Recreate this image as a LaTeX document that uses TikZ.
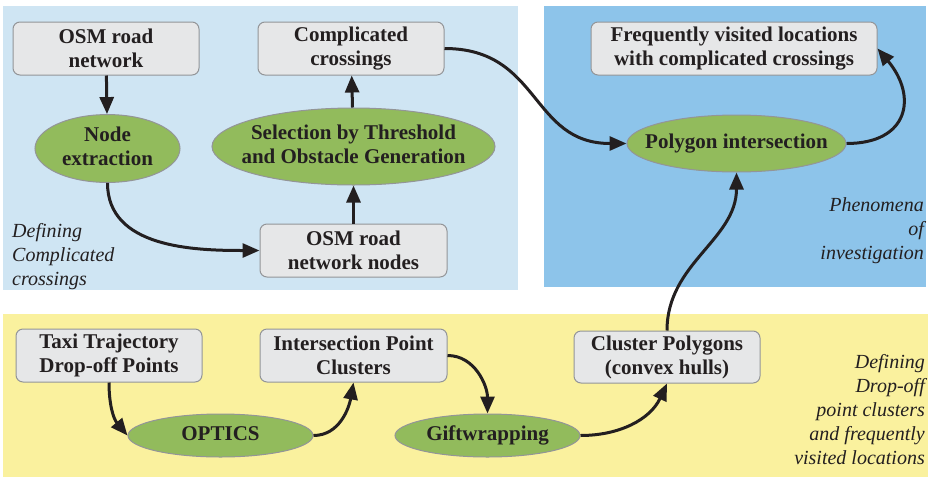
\documentclass[tikz,border=0pt]{standalone}
\usepackage{fontspec}
\setmainfont{Liberation Serif}
\newfontfamily\tms{Liberation Serif}
\usetikzlibrary{arrows.meta,shapes.geometric}
\definecolor{bgLight}{RGB}{207,229,243}
\definecolor{bgBlue}{RGB}{141,196,234}
\definecolor{bgYellow}{RGB}{250,241,158}
\definecolor{boxFill}{RGB}{230,231,232}
\definecolor{boxLine}{RGB}{147,149,152}
\definecolor{procFill}{RGB}{146,187,92}
\definecolor{txt}{RGB}{35,31,32}
\newcommand\ctr[1]{\makebox[0pt]{\begin{tabular}{@{}c@{}}#1\end{tabular}}}
\begin{document}
\begin{tikzpicture}[x=1pt,y=1pt,
  databox/.style={draw=boxLine, fill=boxFill, line width=1pt, rounded corners=7pt, minimum height=53pt, inner sep=0pt, align=center, font=\tms\fontsize{21}{24}\selectfont\bfseries, text=txt},
  proc/.style={ellipse, draw=boxLine, fill=procFill, line width=1pt, inner sep=0pt, font=\tms\fontsize{21}{24}\selectfont\bfseries, text=txt},
  note/.style={font=\tms\fontsize{20}{24}\selectfont\itshape, text=txt, inner sep=0pt},
  flow/.style={draw=txt, line width=3pt, -{Triangle[length=17pt,width=14pt]}},
]
\useasboundingbox (0,0) rectangle (928,-477);
\fill[white] (0,0) rectangle (928,-477);
% regions
\fill[bgLight] (3,-6) rectangle (518,-290);
\fill[bgBlue] (544,-6) rectangle (926,-287);
\fill[bgYellow] (3,-314) rectangle (928,-477);

% data boxes
\node[databox, minimum width=186pt] (osm) at (106,-48.5) {OSM road\\network};
\node[databox, minimum width=186pt] (cc) at (351,-48.5) {Complicated\\crossings};
\node[databox, minimum width=187pt] (osmn) at (353.5,-250.5) {OSM road\\network nodes};
\node[databox, minimum width=286pt] (freq) at (734,-48.5) {Frequently visited locations\\with complicated crossings};
\node[databox, minimum width=186pt] (taxi) at (109,-355.5) {Taxi Trajectory\\Drop-off Points};
\node[databox, minimum width=187pt] (ipc) at (353.5,-355.5) {Intersection Point\\Clusters};
\node[databox, minimum width=186pt, minimum height=52pt] (cpoly) at (667,-357) {Cluster Polygons\\(convex hulls)};

% processes
\node[proc, minimum width=145pt, minimum height=67pt] (nx) at (107.5,-148.5) {\ctr{Node\\extraction}};
\node[proc, minimum width=283pt, minimum height=77pt] (sel) at (353.5,-146.5) {\ctr{Selection by Threshold\\and Obstacle Generation}};
\node[proc, minimum width=219pt, minimum height=57pt] (poly) at (736.5,-143.5) {\ctr{Polygon intersection}};
\node[proc, minimum width=185pt, minimum height=43pt] (optics) at (220.5,-435.5) {\ctr{OPTICS}};
\node[proc, minimum width=185pt, minimum height=43pt] (gift) at (487.5,-435.5) {\ctr{Giftwrapping}};

% notes
\node[note, anchor=west, align=left] (n1) at (12,-256.5) {Defining\\Complicated\\crossings};
\node[note, anchor=east, align=right] (n2) at (924,-231) {Phenomena\\of\\investigation};
\node[note, anchor=east, align=right] (n3) at (925,-409.5) {Defining\\Drop-off\\point clusters\\and frequently\\visited locations};

% connectors
\draw[flow] (osm) -- (nx);
\draw[flow] (nx.south) to[out=-90,in=180] (osmn.west);
\draw[flow] (osmn) -- (sel);
\draw[flow] (sel) -- (cc);
\draw[flow] (cc.east) to[out=0,in=180,looseness=1.2] (poly.west);
\draw[flow] (poly.east) to[out=0,in=-50,looseness=1.6] (freq.east);
\draw[flow] (taxi.south) to[out=-90,in=130] (optics.west);
\draw[flow] (optics.east) to[out=0,in=-100] (ipc.south);
\draw[flow] (ipc.east) to[out=0,in=90] (gift.north);
\draw[flow] (gift.east) to[out=0,in=-115] (cpoly.south);
\draw[flow] (cpoly.north) to[out=90,in=-90] (poly.south);
\end{tikzpicture}
\end{document}
